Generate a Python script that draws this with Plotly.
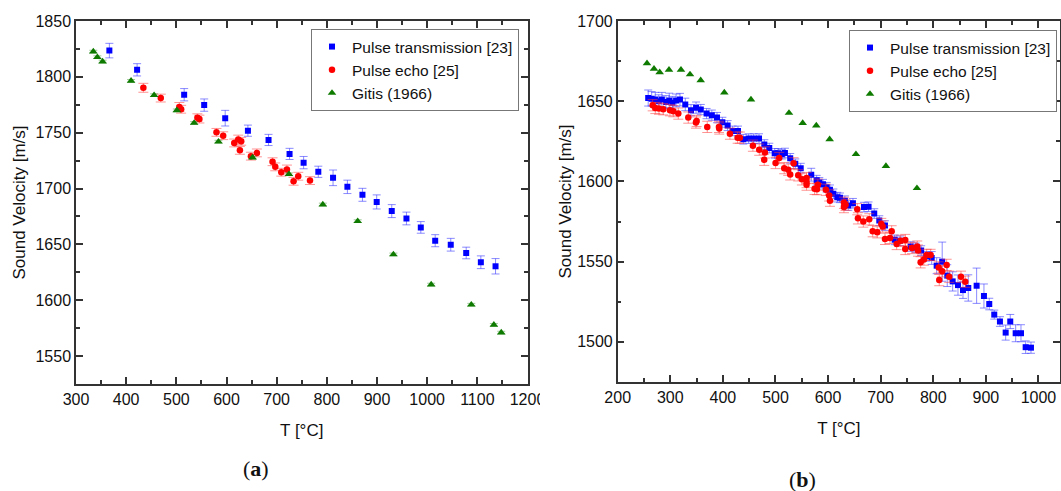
import plotly.graph_objects as go

W, H = 1061, 491

# ---------------- Panel (a) data ----------------
a_pt_T = [366.5, 421.8, 515.6, 555.5, 597.4, 642.7, 683.8, 725.7, 753.7, 783, 812.4,
          841, 871, 899.4, 929.4, 958.7, 987.3, 1016, 1047, 1077.8, 1107, 1136.3]
a_pt_V = [1823.5, 1806.3, 1784, 1774.7, 1763, 1751.8, 1743.5, 1731, 1723.2, 1715, 1709.6,
          1701.5, 1694.4, 1688, 1679.8, 1673.2, 1665.2, 1653.3, 1649.7, 1642.3, 1634, 1630.4]
a_pt_err = [6.5, 5.5, 5.5, 5.5, 7, 5, 5, 5, 5.5, 5, 7,
            6, 5.8, 6.3, 5.8, 5.7, 5.2, 5.4, 5.7, 5.2, 5.7, 6.9]

a_pe_T = [434.3, 469, 506, 509.6, 542, 546, 580, 593.4, 615.4, 623.4, 629.3, 626.7,
          648.7, 660.6, 691.8, 697.2, 709.2, 720.5, 733.7, 743, 766.4]
a_pe_V = [1790.2, 1781, 1773, 1771, 1763.4, 1762.2, 1750.3, 1747.3, 1740.8, 1743.8, 1742.3, 1734.2,
          1729, 1731.9, 1724, 1719.4, 1714.6, 1717, 1706.5, 1711, 1707.1]
a_pe_err = [4, 3.5, 4, 3.5, 3.5, 3.5, 3.5, 3.5, 3.5, 4, 3.5, 3.5,
            3.5, 3.5, 3.5, 3.5, 3.5, 4, 3.5, 3.5, 3.5]

a_gi_T = [334.5, 342.6, 353, 409.8, 455.7, 501, 535.5, 584, 652, 724.5,
          792, 861.5, 932.7, 1008, 1088, 1133, 1147.7]
a_gi_V = [1822.6, 1817.6, 1813.7, 1796.4, 1783.6, 1770, 1758.7, 1742, 1727.7, 1712.8,
          1685.7, 1670.8, 1641, 1614, 1596, 1578, 1571]
a_gi_err = [1.2] * len(a_gi_T)

# ---------------- Panel (b) data ----------------
b_pt_T = [258, 264.6, 271.5, 278, 284, 291.8, 298, 304, 311, 318.4, 328.5, 339.4, 349, 358,
          369, 379, 388.8, 399, 409, 418.6, 428.7, 438.8, 449, 458.6, 468.7, 478.8, 488.2,
          498.5, 505, 512, 518, 528, 537.7, 548, 568, 578.3, 583.3, 590.3, 597.3, 603.6, 610,
          617.5, 622.6, 632, 638.4, 647.3, 668.3, 677, 687.8, 697.4, 708.2, 726.6, 736.7,
          757, 766.5, 777, 786.7, 797, 806.5, 817, 826.6, 836.9, 847, 856.5, 866.6, 882.5,
          896.4, 906.5, 916, 926.8, 937.7, 946.4, 956.7, 966.8, 975.7, 985.8]
b_pt_V = [1652, 1651.5, 1651, 1650, 1651, 1649.5, 1650.5, 1649, 1650.5, 1651, 1648, 1644.4,
          1646, 1644.8, 1642.3, 1641.3, 1639.8, 1636.9, 1634.8, 1631.5, 1631.5, 1626.3,
          1626.7, 1626.7, 1626.7, 1623, 1620.8, 1617.5, 1617.5, 1617, 1617.7, 1614.4, 1611,
          1608.3, 1604.2, 1600.8, 1599.4, 1598.3, 1596.4, 1594.8, 1592.3, 1590.2, 1589.8,
          1588, 1585, 1586.4, 1584, 1584.2, 1580, 1575.6, 1572.5, 1563.6, 1563, 1559.4,
          1558.6, 1556.9, 1553.3, 1552.3, 1547.5, 1550, 1541.3, 1537.7, 1535.4, 1532.3,
          1533.6, 1535, 1528.6, 1523.6, 1517, 1512.7, 1505.8, 1512.7, 1505.4, 1505.4,
          1496.7, 1496.4]
b_pt_err = [5, 4.5, 4.5, 4, 4.5, 4, 4.5, 4, 4, 3.9, 3.9, 3.5, 3.5, 3.2, 3.2, 3.2, 3.2, 3.1,
            3.1, 3, 3, 3, 3, 3, 3, 3, 3, 3, 3, 3, 3, 3, 3, 3, 4, 3, 3, 3, 3, 3, 3,
            3, 3, 3, 3, 3, 3, 3, 3, 3, 3, 3, 3, 3, 3, 3, 3, 4, 5, 12.2, 6.8, 6, 6.3,
            5.2, 8.2, 11, 7.5, 3.6, 2.8, 3, 4.7, 4.4, 5.3, 5.3, 3.9, 3.5]

b_pe_T = [266.5, 271.5, 278.5, 286.6, 299.4, 305.7, 315.2, 334.2, 350.1, 348.8, 370.3,
          392.5, 393.1, 413.4, 428, 432.4, 457.1, 469.1, 479.9, 478.6, 500.2, 507.1,
          516.6, 524.2, 528, 534.4, 543.2, 550.2, 559.1, 559.1, 559.1, 574.3, 578.8, 580.6,
          595.8, 602.1, 603.6, 630.2, 630.2, 633.3, 655.5, 656.8, 667, 678.3, 684.8, 693.5,
          701.2, 703.8, 708.2, 717.7, 720.9, 730.4, 738, 746.8, 746.8, 759.5, 769.6, 771,
          776, 782.3, 787.5, 795, 810.3, 811.4, 817, 825.5, 830.4, 852.7, 860.9]
b_pe_V = [1647.5, 1645.8, 1645.4, 1645, 1644.4, 1643.8, 1642.3, 1639.8, 1637.7, 1636.7,
          1634, 1634, 1633, 1629.8, 1627.3, 1627.3, 1622.3, 1619.8, 1618.1, 1613.5, 1611.5,
          1614.6, 1608.3, 1607.3, 1604.4, 1611.3, 1603.8, 1601.3, 1602.1, 1599.6, 1598,
          1595.4, 1595.2, 1598, 1594.8, 1591.3, 1588, 1586.7, 1584, 1585.4, 1582.7, 1577,
          1575, 1576.4, 1569, 1568.3, 1573.5, 1571.9, 1564.2, 1564.8, 1568.9, 1561, 1563,
          1563.5, 1557.9, 1558.5, 1559.4, 1556.9, 1549.6, 1551.3, 1554.2, 1554.2, 1546.4,
          1538.5, 1544, 1548, 1540.6, 1540.6, 1537.5]
b_pe_err = [3.5] * len(b_pe_T)

b_gi_T = [255.7, 269, 279.8, 297.5, 320.3, 337.5, 357.8, 402.7, 453.4, 525.7, 551.7,
          577.6, 603, 653, 710, 769]
b_gi_V = [1673.6, 1670.2, 1668, 1669.6, 1669.6, 1666.7, 1663, 1655.4, 1651, 1642.7,
          1636.4, 1634.8, 1626.3, 1617, 1609.6, 1595.8]

series_names = ["Pulse transmission [23]", "Pulse echo [25]", "Gitis (1966)"]
a_xticks = [300, 400, 500, 600, 700, 800, 900, 1000, 1100, 1200]
a_yticks = [1550, 1600, 1650, 1700, 1750, 1800, 1850]
b_xticks = [200, 300, 400, 500, 600, 700, 800, 900, 1000]
b_yticks = [1500, 1550, 1600, 1650, 1700]

BLUE, RED, GREEN = "#0000FF", "#FF0000", "#0F7A00"
FONT = "Liberation Sans, Arial, sans-serif"


def px(x):
    return x / W


def py(y):
    return 1 - y / H


fig = go.Figure()


def add(T, V, err, name, color, ecolor, symbol, size, xa, ya, legend, ewidth):
    kw = {}
    if err is not None:
        kw["error_y"] = dict(type="data", array=err, visible=True, color=ecolor,
                             thickness=1, width=ewidth)
    fig.add_trace(go.Scatter(x=T, y=V, mode="markers", name=name,
                             marker=dict(color=color, symbol=symbol, size=size, line=dict(width=0)),
                             xaxis=xa, yaxis=ya, legend=legend, **kw))


add(a_pt_T, a_pt_V, a_pt_err, series_names[0], BLUE, "rgba(60,60,255,0.6)", "square", 6, "x", "y", "legend", 4)
add(a_pe_T, a_pe_V, a_pe_err, series_names[1], RED, "rgba(255,60,60,0.55)", "circle", 6.5, "x", "y", "legend", 5)
add(a_gi_T, a_gi_V, a_gi_err, series_names[2], GREEN, "rgba(15,122,0,0.4)", "triangle-up", 7.5, "x", "y", "legend", 4)

add(b_pt_T, b_pt_V, b_pt_err, series_names[0], BLUE, "rgba(60,60,255,0.6)", "square", 6, "x2", "y2", "legend2", 4)
add(b_pe_T, b_pe_V, b_pe_err, series_names[1], RED, "rgba(255,60,60,0.55)", "circle", 6.5, "x2", "y2", "legend2", 5)
add(b_gi_T, b_gi_V, None, series_names[2], GREEN, None, "triangle-up", 7.5, "x2", "y2", "legend2", 4)


def axis(rng, ticks, dom, minor_dt, anchor, title, standoff):
    return dict(range=rng, domain=dom, anchor=anchor, tickvals=ticks, automargin=False,
                ticks="inside", ticklen=7, tickwidth=1.5, tickcolor="#333",
                showline=True, linecolor="#333", linewidth=1.5, mirror="ticks",
                showgrid=False, zeroline=False,
                minor=dict(dtick=minor_dt, ticks="inside", ticklen=4, tickwidth=1.5,
                           tickcolor="#333", showgrid=False),
                tickfont=dict(family=FONT, size=16, color="#111"),
                title=dict(text=title, font=dict(family=FONT, size=17, color="#111"),
                           standoff=standoff))


legend_style = dict(font=dict(family=FONT, size=15.5, color="#111"), bgcolor="white",
                    bordercolor="#777", borderwidth=1, xanchor="right", yanchor="top",
                    tracegroupgap=0)

fig.update_layout(
    template="none",
    width=W, height=H, margin=dict(l=0, r=0, t=0, b=0),
    paper_bgcolor="white", plot_bgcolor="white", showlegend=True,
    xaxis=axis([300, 1200], a_xticks, [px(76), px(527.5)], 50, "y", "T [°C]", 17),
    yaxis=axis([1525, 1850], a_yticks, [py(384), py(21)], 25, "x", "Sound Velocity [m/s]", 6),
    xaxis2=axis([200, 1041], b_xticks, [px(617.7), px(1060)], 50, "y2", "T [°C]", 17),
    yaxis2=axis([1475, 1700], b_yticks, [py(382), py(21)], 25, "x2", "Sound Velocity [m/s]", 1),
    legend=dict(x=px(519), y=py(29), **legend_style),
    legend2=dict(x=px(1057), y=py(30), **legend_style),
    annotations=[
        dict(text="(<b>a</b>)", x=px(256), y=py(468), xref="paper", yref="paper",
             xanchor="center", yanchor="middle", showarrow=False,
             font=dict(family="Liberation Serif, DejaVu Serif, serif", size=22, color="#111")),
        dict(text="(<b>b</b>)", x=px(802), y=py(479), xref="paper", yref="paper",
             xanchor="center", yanchor="middle", showarrow=False,
             font=dict(family="Liberation Serif, DejaVu Serif, serif", size=22, color="#111")),
    ],
    shapes=[dict(type="rect", xref="paper", yref="paper", layer="above",
                 x0=px(540), x1=px(560), y0=py(412), y1=py(386),
                 fillcolor="white", line=dict(width=0))],
)

fig.write_html("out.html")
